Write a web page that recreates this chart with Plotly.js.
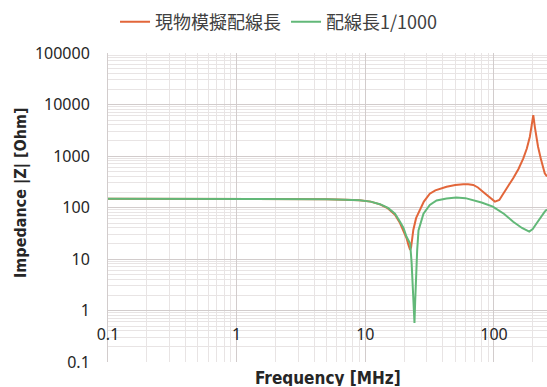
<!DOCTYPE html>
<html>
<head>
<meta charset="utf-8">
<script src="https://cdn.plot.ly/plotly-3.0.1.min.js"></script>
<style>
html,body{margin:0;padding:0;background:#fff;}
#chart{width:547px;height:387px;}
</style>
</head>
<body>
<div id="chart"></div>
<script>
// ---- data ----
const seriesNames = ["現物模擬配線長", "配線長1/1000"];

const freqA = [0.1, 0.3, 1, 3, 5, 7, 9, 11, 13, 15, 17, 18.6, 19.8, 20.9, 21.6, 22.0, 22.3, 22.7, 23.6, 24.8, 26.5, 28.5, 31.7, 35, 42.8, 50, 57.7, 63, 69, 75, 82, 92, 101.6, 110, 118, 130, 141, 155, 169, 180, 190, 197, 202, 208, 214, 220, 232, 248, 258];
const impA  = [148, 148, 148, 147, 145, 142, 138, 130, 115, 96, 72, 50, 35, 25.6, 19, 15.5, 15, 17, 36.6, 62, 89, 130, 185, 215, 253, 274, 284, 284, 274, 245, 203, 160, 130, 140, 188, 270, 369, 560, 900, 1400, 2370, 4000, 6200, 3600, 2300, 1510, 850, 461, 400];

const freqB = [0.1, 0.3, 1, 3, 5, 7, 9, 11, 13, 15, 17, 18.6, 19.8, 20.9, 22.3, 22.9, 23.4, 23.8, 24.1, 24.4, 24.8, 25.3, 25.9, 27.5, 28.3, 31.7, 35.8, 42.8, 51, 60, 69, 80, 98, 120, 141, 165, 188, 200, 214, 230, 248, 258];
const impB  = [148, 148, 148, 147, 145, 142, 138, 130, 116, 98, 76, 53, 40, 27, 20, 8.4, 3, 1.2, 0.57, 1.5, 6, 15, 36, 60, 76, 112, 137, 150, 156, 152, 140, 125, 104, 75, 53, 40, 34, 38, 49, 65, 83, 92];

const yTickVals = [0.1, 1, 10, 100, 1000, 10000, 100000];
const yTickText = ["0.1", "1", "10", "100", "1000", "10000", "100000"];
const xTickVals = [0.1, 1, 10, 100];
const xTickText = ["0.1", "1", "10", "100"];
const xTitle = "Frequency [MHz]";
const yTitle = "Impedance |Z| [Ohm]";

const colA = "#E2663A";
const colB = "#62B878";
const tickFont = {family: "Noto Sans, Open Sans, sans-serif", size: 16, color: "#262626"};
const titleFontFamily = "DejaVu Sans Condensed, Noto Sans, sans-serif";

const traces = [
  {x: freqA, y: impA, name: seriesNames[0], type: "scatter", mode: "lines",
   line: {color: colA, width: 2}},
  {x: freqB, y: impB, name: seriesNames[1], type: "scatter", mode: "lines",
   line: {color: colB, width: 2}}
];

const layout = {
  width: 547, height: 387,
  margin: {l: 108, r: 0, t: 53, b: 25, pad: 0},
  paper_bgcolor: "#ffffff", plot_bgcolor: "#ffffff",
  showlegend: true,
  legend: {
    orientation: "h", x: 0.016, xanchor: "left", y: 1.10, yanchor: "middle",
    font: {family: "Noto Sans CJK JP, Noto Sans, sans-serif", size: 18, color: "#404040"},
    bgcolor: "rgba(0,0,0,0)"
  },
  xaxis: {
    type: "log", range: [-1, 2.412],
    anchor: "free", position: 1/6,
    tickmode: "array", tickvals: xTickVals, ticktext: xTickText,
    ticks: "", ticklabelstandoff: 12,
    tickfont: tickFont,
    showgrid: true, gridcolor: "#d2cccc", gridwidth: 1,
    minor: {dtick: "D1", showgrid: true, gridcolor: "#e8e4e4", gridwidth: 1},
    showline: false, zeroline: false
  },
  yaxis: {
    type: "log", range: [-1, 5],
    tickmode: "array", tickvals: yTickVals, ticktext: yTickText,
    ticks: "", ticklabelstandoff: 14,
    tickfont: tickFont,
    showgrid: true, gridcolor: "#d2cccc", gridwidth: 1,
    minor: {dtick: "D1", showgrid: true, gridcolor: "#e8e4e4", gridwidth: 1},
    showline: true, linecolor: "#d2cccc", linewidth: 1,
    zeroline: false
  },
  annotations: [
    {text: "<b>" + xTitle + "</b>", xref: "paper", yref: "paper", x: 0.5, y: 0,
     yshift: -16, xanchor: "center", yanchor: "middle", showarrow: false,
     height: 16, valign: "middle",
     font: {family: titleFontFamily, size: 17, color: "#262626"}},
    {text: "<b>" + yTitle + "</b>", xref: "paper", yref: "paper", x: 0, y: 0.547,
     xshift: -87, xanchor: "center", yanchor: "middle", showarrow: false,
     textangle: -90,
     font: {family: titleFontFamily, size: 16, color: "#262626"}}
  ]
};

Plotly.newPlot("chart", traces, layout, {displayModeBar: false, staticPlot: true});
</script>
</body>
</html>
